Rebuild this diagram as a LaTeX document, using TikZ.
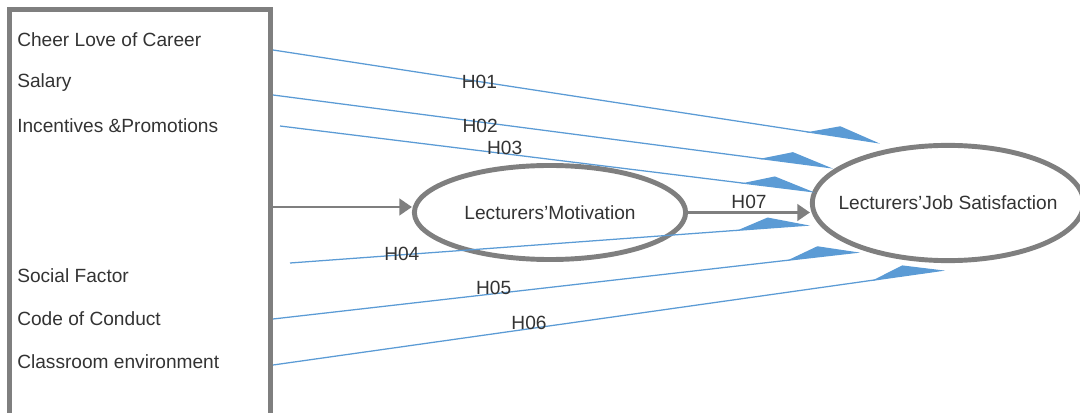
\documentclass[tikz,border=0pt]{standalone}
\usepackage{fontspec}
\setmainfont{Liberation Sans}
\usetikzlibrary{arrows.meta,shapes.geometric}
\definecolor{framegray}{HTML}{7F7F7F}
\definecolor{pathblue}{HTML}{5B9BD5}
\definecolor{txtgray}{HTML}{333333}
\tikzset{
    var/.style={draw=framegray, line width=3.5pt, ellipse, inner sep=0pt, text=txtgray},
    item/.style={anchor=west, inner sep=0pt, text=txtgray},
    hyp/.style={draw=pathblue, line width=0.9pt, -{Kite[length=50pt,width=15pt,inset=22pt,left]}},
    link/.style={draw=framegray, line width=1.5pt, -{Triangle[length=9pt,width=12pt]}},
    hlab/.style={text=txtgray, inner sep=1pt}
}
\begin{document}
\begin{tikzpicture}[x=0.025cm, y=-0.025cm, font=\fontsize{13.6}{16}\selectfont]
    \useasboundingbox (0,0) rectangle (1080,413);

    % factors
    \node[draw=framegray, line width=3.5pt, minimum width=6.525cm, minimum height=10.51cm, inner sep=0pt] (box) at (140,219.75) {};
    \node[item] (career) at (17,40) {Cheer Love of Career};
    \node[item] (salary) at (17,83) {Salary};
    \node[item] (promo) at (17,126) {Incentives \&Promotions};
    \node[item] (social) at (17,276) {Social Factor};
    \node[item] (conduct) at (17,319) {Code of Conduct};
    \node[item] (room) at (17,362) {Classroom environment};

    % latent variables
    \node[var, minimum width=6.78cm, minimum height=2.35cm] (mot) at (550,212.5) {\makebox[0pt]{Lecturers'Motivation}};
    \node[var, minimum width=6.78cm, minimum height=2.88cm] (js) at (948,203) {\makebox[0pt]{Lecturers'Job Satisfaction}};

    \coordinate (tomot) at (273,207);
    \draw[link] (tomot) -- (tomot -| mot.west);
    \draw[link] (mot.east) -- node[hlab, above, yshift=1pt] {H07} (mot.east -| js.west);

    % hypotheses
    \coordinate (s1) at (273,50);
    \coordinate (s2) at (273,95);
    \coordinate (s3) at (280,126);
    \coordinate (s4) at (290,263);
    \coordinate (s5) at (273,319);
    \coordinate (s6) at (273,365);
    \coordinate (e1) at (880,143);
    \coordinate (e2) at (833,168);
    \coordinate (e3) at (815,192);
    \coordinate (e4) at (810,225);
    \coordinate (e5) at (860,252);
    \coordinate (e6) at (945,270);

    \draw[hyp] (s1) -- node[hlab, pos=0.34] {H01} (e1);
    \draw[hyp] (s2) -- node[hlab, pos=0.37, yshift=-3pt] {H02} (e2);
    \draw[hyp] (s3) -- node[hlab, pos=0.42, yshift=4pt] {H03} (e3);
    \draw[hyp] (s4) -- node[hlab, pos=0.215, yshift=1pt] {H04} (e4);
    \draw[hyp] (s5) -- node[hlab, pos=0.376, yshift=4pt] {H05} (e5);
    \draw[hyp] (s6) -- node[hlab, pos=0.381, yshift=4pt] {H06} (e6);
\end{tikzpicture}
\end{document}
